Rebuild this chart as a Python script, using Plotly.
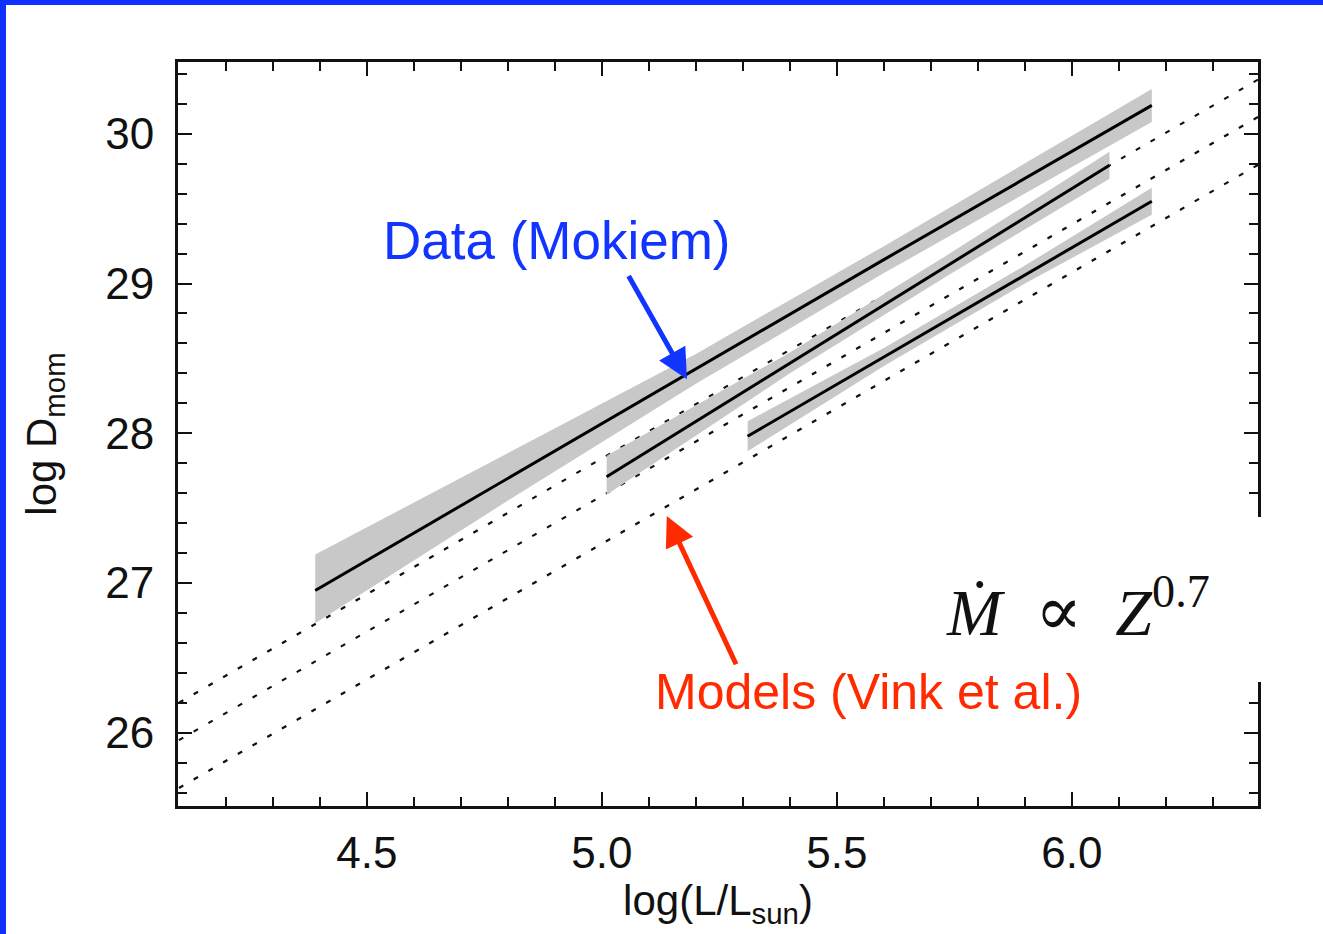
import plotly.graph_objects as go

# ---- observed wind-momentum fits (Mokiem et al.) ----
# three metallicity groups: x = log(L/Lsun), fit = log D_mom, lo/hi = confidence band
gal_x = [4.39, 4.80, 5.20, 5.60, 6.17]
gal_fit = [26.95, 27.70, 28.43, 29.16, 30.19]
gal_lo = [26.73, 27.55, 28.33, 29.07, 30.08]
gal_hi = [27.19, 27.87, 28.53, 29.25, 30.30]

lmc_x = [5.01, 5.40, 5.75, 6.08]
lmc_fit = [27.71, 28.47, 29.15, 29.79]
lmc_lo = [27.59, 28.40, 29.08, 29.70]
lmc_hi = [27.85, 28.54, 29.22, 29.88]

smc_x = [5.31, 5.60, 5.90, 6.17]
smc_fit = [27.98, 28.51, 29.06, 29.55]
smc_lo = [27.88, 28.45, 29.00, 29.46]
smc_hi = [28.08, 28.57, 29.12, 29.64]

# ---- theoretical predictions (Vink et al.) ----
model_x = [4.10, 6.40]
model_gal = [26.20, 30.37]
model_lmc = [25.95, 30.12]
model_smc = [25.63, 29.80]

# axis tick labels
x_ticks = [4.5, 5.0, 5.5, 6.0]
x_tick_text = ["4.5", "5.0", "5.5", "6.0"]
y_ticks = [26, 27, 28, 29, 30]
y_tick_text = ["26", "27", "28", "29", "30"]

BAND = "#c8c8c8"
BLUE = "#1234ff"
RED = "#ff2a00"
SANS = "Liberation Sans, Arial, sans-serif"
SERIF = "Liberation Serif, DejaVu Serif, serif"

fig = go.Figure()

# dashed model relations
for ys in (model_gal, model_lmc, model_smc):
    fig.add_trace(go.Scatter(
        x=model_x, y=ys, mode="lines",
        line=dict(color="#111111", width=2.2, dash="5px,12px"),
        hoverinfo="skip", showlegend=False))

# shaded confidence bands + fitted relations
for xs, fit, lo, hi in ((gal_x, gal_fit, gal_lo, gal_hi),
                        (lmc_x, lmc_fit, lmc_lo, lmc_hi),
                        (smc_x, smc_fit, smc_lo, smc_hi)):
    fig.add_trace(go.Scatter(
        x=xs + xs[::-1], y=hi + lo[::-1], mode="lines",
        fill="toself", fillcolor=BAND, line=dict(width=0, color=BAND),
        hoverinfo="skip", showlegend=False))
    fig.add_trace(go.Scatter(
        x=xs, y=fit, mode="lines",
        line=dict(color="#000000", width=3),
        showlegend=False))

# plot area in pixels: x 178..1258, y 62..806
L, R, T, B = 178, 1258, 62, 806
W, H = R - L, B - T


def px(xp):
    return (xp - L) / W


def py(yp):
    return (B - yp) / H


shapes = [
    # white panel behind the scaling-relation label (hides the frame there)
    dict(type="rect", xref="paper", yref="paper", layer="above",
         x0=px(930), x1=px(1275), y0=py(682), y1=py(517),
         fillcolor="white", line=dict(width=0)),
    # slide frame: blue bars along top and left
    dict(type="rect", xref="paper", yref="paper", layer="above",
         x0=px(0), x1=px(1323), y0=py(5), y1=py(0),
         fillcolor="#1030ff", line=dict(width=0)),
    dict(type="rect", xref="paper", yref="paper", layer="above",
         x0=px(0), x1=px(6), y0=py(934), y1=py(0),
         fillcolor="#1030ff", line=dict(width=0)),
]

annotations = [
    dict(x=4.904, y=29.29, xref="x", yref="y", text="Data (Mokiem)",
         showarrow=False, font=dict(family=SANS, size=53, color=BLUE)),
    dict(x=5.181, y=28.36, ax=5.055, ay=29.06, xref="x", yref="y",
         axref="x", ayref="y", text="", showarrow=True,
         arrowhead=2, arrowsize=1.2, arrowwidth=5, arrowcolor=BLUE),
    dict(x=5.568, y=26.27, xref="x", yref="y", text="Models (Vink et al.)",
         showarrow=False, font=dict(family=SANS, size=50, color=RED)),
    dict(x=5.138, y=27.447, ax=5.287, ay=26.447, xref="x", yref="y",
         axref="x", ayref="y", text="", showarrow=True,
         arrowhead=2, arrowsize=1.2, arrowwidth=5, arrowcolor=RED),
    dict(x=5.728, y=26.83, xref="x", yref="y", xanchor="left",
         text=("<i>Ṁ</i>\u2002<span style=\"font-size:70px\">∝</span>"
               "\u2002<i>Z</i><sup>0.7</sup>"),
         showarrow=False,
         font=dict(family=SERIF, size=66, color="#111111")),
]

axis_common = dict(
    showgrid=False, zeroline=False, showline=True, linecolor="#111111",
    linewidth=3, mirror="ticks", ticks="inside", tickwidth=2,
    tickcolor="#111111", ticklen=14,
    tickfont=dict(family=SANS, size=44, color="#111111"),
)

fig.update_xaxes(
    range=[4.098, 6.396], tickvals=x_ticks, ticktext=x_tick_text,
    ticklabelstandoff=6,
    minor=dict(ticks="inside", dtick=0.1, tick0=4.0, ticklen=9,
               tickwidth=2, tickcolor="#111111"),
    title=dict(text="log(L/L<sub>sun</sub>)", standoff=8,
               font=dict(family=SANS, size=42, color="#111111")),
    **axis_common)
fig.update_yaxes(
    range=[25.51, 30.48], tickvals=y_ticks, ticktext=y_tick_text,
    ticklabelstandoff=12,
    minor=dict(ticks="inside", dtick=0.2, tick0=25.0, ticklen=9,
               tickwidth=2, tickcolor="#111111"),
    title=dict(text="log D<sub>mom</sub>", standoff=36,
               font=dict(family=SANS, size=42, color="#111111")),
    **axis_common)

fig.update_layout(
    width=1323, height=934,
    margin=dict(l=L, r=1323 - R, t=T, b=934 - B, autoexpand=False),
    paper_bgcolor="white", plot_bgcolor="white",
    shapes=shapes, annotations=annotations, showlegend=False,
)

fig.write_html("out.html")
